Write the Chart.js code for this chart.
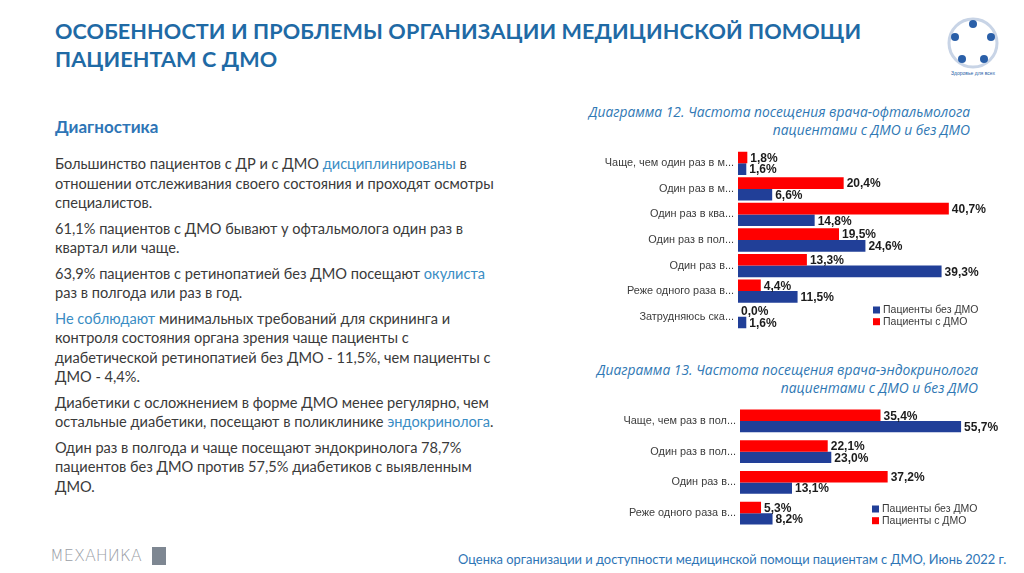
<!DOCTYPE html>
<html lang="ru">
<head>
<meta charset="utf-8">
<script src="https://cdn.jsdelivr.net/npm/chart.js@4.4.0/dist/chart.umd.min.js"></script>
<style>
  html, body { margin: 0; padding: 0; background: #ffffff; }
  body { width: 1024px; height: 573px; position: relative; overflow: hidden; font-family: Lato, "Open Sans", sans-serif; }
  .abs { position: absolute; white-space: nowrap; }
  #title { left: 55px; top: 17px; font-family: Lato, sans-serif; font-weight: 700; font-size: 21.6px; line-height: 28px; color: #1f6aa5; letter-spacing: 0.1px; }
  #sub { left: 55px; top: 116px; font-weight: 700; font-size: 17px; color: #2e75b6; }
  #body { left: 55px; top: 154px; font-size: 14.6px; color: #3a3a3a; line-height: 19.5px; }
  #body p { margin: 0 0 6px 0; }
  .hl { color: #3a8dc4; }
  .ct { font-family: "Open Sans", sans-serif; font-style: italic; font-size: 13.8px; color: #2f78b4; text-align: right; line-height: 18px; }
  #ct12 { right: 54px; top: 103px; }
  #ct13 { right: 46px; top: 361px; }
  #footer { left: 458px; top: 551px; font-size: 12.9px; color: #2e75b6; font-family: Lato, sans-serif; }
  #logo2 { left: 50px; top: 546px; font-size: 16px; color: #9a9ea6; font-family: "DejaVu Sans", sans-serif; font-weight: 300; letter-spacing: 0px; }
  #logo2sq { left: 152px; top: 547px; width: 14px; height: 18px; background: #7e8792; }
  #c12 { position: absolute; left: 590px; top: 140px; }
  #c13 { position: absolute; left: 590px; top: 395px; }
  #logo1 { left: 938px; top: 12px; }
</style>
</head>
<body>
<div id="title" class="abs">ОСОБЕННОСТИ И ПРОБЛЕМЫ ОРГАНИЗАЦИИ МЕДИЦИНСКОЙ ПОМОЩИ<br>ПАЦИЕНТАМ С ДМО</div>
<svg id="logo1" class="abs" width="70" height="66" viewBox="0 0 70 66">
  <circle cx="35" cy="31" r="24" fill="none" stroke="#c8d4e6" stroke-width="3"/>
  <g fill="#2a5fa8">
    <circle cx="35" cy="12" r="4"/><circle cx="53" cy="25" r="4"/><circle cx="46" cy="47" r="4"/>
    <circle cx="24" cy="47" r="4"/><circle cx="17" cy="25" r="4"/>
  </g>
  <text x="35" y="63" font-size="5" fill="#2a5fa8" text-anchor="middle" font-family="Liberation Sans">Здоровье для всех</text>
</svg>
<div id="sub" class="abs">Диагностика</div>
<div id="body" class="abs">
  <p>Большинство пациентов с ДР и с ДМО <span class="hl">дисциплинированы</span> в<br>отношении отслеживания своего состояния и проходят осмотры<br>специалистов.</p>
  <p>61,1% пациентов с ДМО бывают у офтальмолога один раз в<br>квартал или чаще.</p>
  <p>63,9% пациентов с ретинопатией без ДМО посещают <span class="hl">окулиста</span><br>раз в полгода или раз в год.</p>
  <p><span class="hl">Не соблюдают</span> минимальных требований для скрининга и<br>контроля состояния органа зрения чаще пациенты с<br>диабетической ретинопатией без ДМО - 11,5%, чем пациенты с<br>ДМО - 4,4%.</p>
  <p>Диабетики с осложнением в форме ДМО менее регулярно, чем<br>остальные диабетики, посещают в поликлинике <span class="hl">эндокринолога</span>.</p>
  <p>Один раз в полгода и чаще посещают эндокринолога 78,7%<br>пациентов без ДМО против 57,5% диабетиков с выявленным<br>ДМО.</p>
</div>
<div id="ct12" class="abs ct">Диаграмма 12. Частота посещения врача-офтальмолога<br>пациентами с ДМО и без ДМО</div>
<div id="ct13" class="abs ct">Диаграмма 13. Частота посещения врача-эндокринолога<br>пациентами с ДМО и без ДМО</div>
<canvas id="c12" width="420" height="200"></canvas>
<canvas id="c13" width="420" height="145"></canvas>
<div id="logo2" class="abs">МЕХАНИКА</div>
<div id="logo2sq" class="abs"></div>
<div id="footer" class="abs">Оценка организации и доступности медицинской помощи пациентам с ДМО, Июнь 2022 г.</div>

<script>
// ---- Data ----
const seriesNames = ["Пациенты с ДМО", "Пациенты без ДМО"];
const categories12 = ["Чаще, чем один раз в м...", "Один раз в м...", "Один раз в ква...", "Один раз в пол...", "Один раз в...", "Реже одного раза в...", "Затрудняюсь ска..."];
const withDME12 = [1.8, 20.4, 40.7, 19.5, 13.3, 4.4, 0.0];
const withoutDME12 = [1.6, 6.6, 14.8, 24.6, 39.3, 11.5, 1.6];
const categories13 = ["Чаще, чем раз в пол...", "Один раз в пол...", "Один раз в...", "Реже одного раза в..."];
const withDME13 = [35.4, 22.1, 37.2, 5.3];
const withoutDME13 = [55.7, 23.0, 13.1, 8.2];

const RED = "#ff0000";
const BLUE = "#213f98";

Chart.defaults.font.family = "'Liberation Sans', Arial, sans-serif";
Chart.defaults.animation = false;

const valueLabels = {
  id: "valueLabels",
  afterDatasetsDraw(chart) {
    const ctx = chart.ctx;
    ctx.save();
    ctx.font = "bold 12px 'Liberation Sans', Arial, sans-serif";
    ctx.fillStyle = "#1c1c1c";
    ctx.textAlign = "left";
    ctx.textBaseline = "middle";
    chart.data.datasets.forEach((ds, di) => {
      const meta = chart.getDatasetMeta(di);
      meta.data.forEach((bar, i) => {
        const v = ds.data[i];
        ctx.fillText(v.toFixed(1).replace(".", ",") + "%", bar.x + 3, bar.y + 1);
      });
    });
    ctx.restore();
  }
};

const boxLegend = {
  id: "boxLegend",
  afterDraw(chart, args, opts) {
    const ctx = chart.ctx;
    ctx.save();
    ctx.font = "10.5px 'Liberation Sans', Arial, sans-serif";
    ctx.textBaseline = "middle";
    ctx.textAlign = "left";
    const order = chart.data.datasets.map((d, i) => i).reverse();
    order.forEach((di, k) => {
      const ds = chart.data.datasets[di];
      const y = opts.y + k * opts.gap;
      ctx.fillStyle = ds.backgroundColor;
      ctx.fillRect(opts.x, y - 3.5, 7, 7);
      ctx.fillStyle = "#3a3a3a";
      ctx.fillText(ds.label, opts.x + 10, y);
    });
    ctx.restore();
  }
};

function makeChart(id, cats, a, b, max, axisW, pad, catPct, legendPos) {
  return new Chart(document.getElementById(id), {
    type: "bar",
    data: {
      labels: cats,
      datasets: [
        { label: seriesNames[0], data: a, backgroundColor: RED, barPercentage: 1, categoryPercentage: catPct },
        { label: seriesNames[1], data: b, backgroundColor: BLUE, barPercentage: 1, categoryPercentage: catPct }
      ]
    },
    options: {
      indexAxis: "y",
      responsive: false,
      devicePixelRatio: 1,
      layout: { padding: pad },
      plugins: { legend: { display: false }, tooltip: { enabled: false }, boxLegend: legendPos },
      scales: {
        x: { display: false, min: 0, max: max },
        y: {
          grid: { display: false, drawTicks: false },
          border: { display: false },
          ticks: { color: "#3c3c3c", font: { size: 10.9 }, padding: 4, autoSkip: false },
          afterFit(scale) { scale.width = axisW; }
        }
      }
    },
    plugins: [valueLabels, boxLegend]
  });
}

makeChart("c12", categories12, withDME12, withoutDME12, 50, 148,
  { left: 0, right: 13, top: 7.5, bottom: 9 }, 0.914, { x: 283, y: 170, gap: 11.7 });
makeChart("c13", categories13, withDME13, withoutDME13, 65, 150,
  { left: 0, right: 12, top: 8.7, bottom: 11.5 }, 0.74, { x: 282, y: 114, gap: 11.7 });
</script>
</body>
</html>
